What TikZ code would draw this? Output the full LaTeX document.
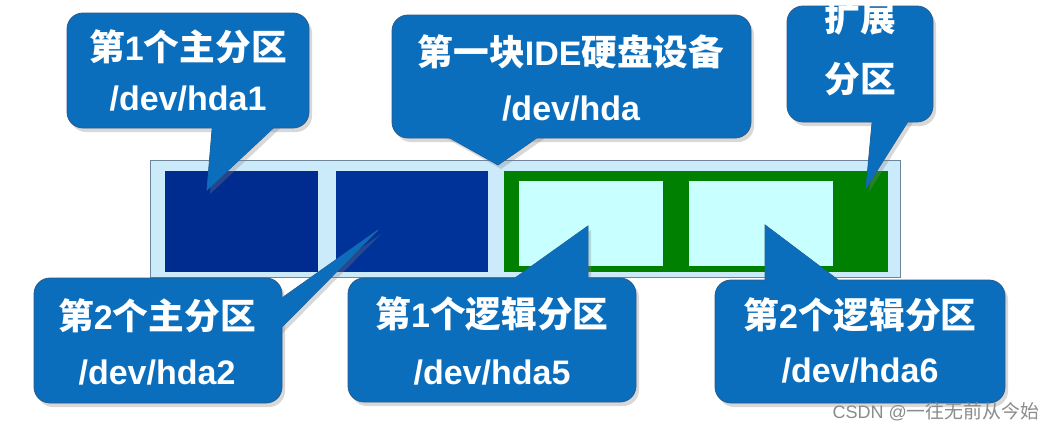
\documentclass[tikz,border=0pt]{standalone}
\usepackage{fontspec}
\setmainfont{Liberation Sans}
\newfontfamily\cjk{Noto Sans CJK SC}[Scale=1.05]
\newcommand\zh[1]{{\cjk #1}}
\usepackage{xcolor}
\usetikzlibrary{shadows}

\definecolor{diskfill}{HTML}{CBEAFA}
\definecolor{diskedge}{HTML}{6E8499}
\definecolor{primone}{HTML}{002C90}
\definecolor{primtwo}{HTML}{003399}
\definecolor{extgreen}{HTML}{008000}
\definecolor{logfill}{HTML}{C8FFFF}
\definecolor{callfill}{HTML}{0A6EBD}
\definecolor{calledge}{HTML}{2C5A88}

\tikzset{
  part/.style={inner sep=0pt, outer sep=0pt},
  callbox/.style={fill=callfill, draw=calledge, line width=0.8pt, rounded corners=16pt,
    inner sep=0pt, drop shadow={opacity=0.3, shadow xshift=3pt, shadow yshift=-4pt}},
  tail/.style={fill=callfill, draw=calledge, line width=0.8pt,
    drop shadow={opacity=0.3, shadow xshift=3pt, shadow yshift=-4pt}},
  tailfill/.style={fill=callfill},
  calltext/.style={text=white, font=\bfseries\fontsize{34}{50}\selectfont, align=center}
}

\begin{document}
\begin{tikzpicture}[x=1pt,y=-1pt]
		\useasboundingbox[fill=white] (0,0) rectangle (1056,431);
		% disk and partitions
		\node[part, fill=diskfill, draw=diskedge, line width=1pt, minimum width=749.5pt, minimum height=117pt] (disk) at (525.5,219.2) {};
		\node[part, fill=primone, minimum width=152.3pt, minimum height=101pt] (hda1) at (241.6,221.2) {};
		\node[part, fill=primtwo, minimum width=152.2pt, minimum height=101pt] (hda2) at (411.6,221.2) {};
		\node[part, fill=extgreen, minimum width=383.1pt, minimum height=101pt] (ext) at (696,221.2) {};
		\node[part, fill=logfill, minimum width=143.4pt, minimum height=85.3pt] (hda5) at (590.9,223.3) {};
		\node[part, fill=logfill, minimum width=143.4pt, minimum height=85.3pt] (hda6) at (760.8,223.3) {};
		%
		\coordinate (t1) at (207,190);
		\coordinate (t2) at (498,165);
		\coordinate (t3) at (866,188);
		\coordinate (t4) at (378,230);
		\coordinate (t5) at (588,226);
		\coordinate (t6) at (765,225);
		%
		\path[tail] (213,118) -- (t1) -- (284,118) -- cycle;
		\path[tail] (432,128) -- (t2) -- (551,128) -- cycle;
		\path[tail] (873,112) -- (t3) -- (914,112) -- cycle;
		\path[tail] (272,305) -- (t4) -- (272,337) -- cycle;
		\path[tail] (501,288) -- (t5) -- (588,288) -- cycle;
		\path[tail] (765,292) -- (t6) -- (854,292) -- cycle;
		%
		\node[callbox, minimum width=242pt, minimum height=115pt] (c1) at (188,70.5) {};
		\node[callbox, minimum width=359pt, minimum height=123pt] (c2) at (571.5,76.5) {};
		\node[callbox, minimum width=146pt, minimum height=116pt] (c3) at (860,64) {};
		\node[callbox, minimum width=248pt, minimum height=125pt] (c4) at (158,340.5) {};
		\node[callbox, minimum width=288pt, minimum height=124pt] (c5) at (492,340) {};
		\node[callbox, minimum width=290pt, minimum height=123pt] (c6) at (860,341.5) {};
		%
		\path[tailfill] (213,118) -- (t1) -- (284,118) -- cycle;
		\path[tailfill] (432,128) -- (t2) -- (551,128) -- cycle;
		\path[tailfill] (873,112) -- (t3) -- (914,112) -- cycle;
		\path[tailfill] (272,305) -- (t4) -- (272,337) -- cycle;
		\path[tailfill] (501,288) -- (t5) -- (588,288) -- cycle;
		\path[tailfill] (765,292) -- (t6) -- (854,292) -- cycle;
		%
		\node[calltext] (c1t) at (188,70) {\zh{第}1\zh{个主分区}\\/dev/hda1};
		\node[calltext, font=\bfseries\fontsize{34}{55}\selectfont] (c2t) at (571,78) {\zh{第一块}IDE\zh{硬盘设备}\\/dev/hda};
		\node[calltext, font=\bfseries\fontsize{34}{61}\selectfont] (c3t) at (860,48) {\zh{扩展}\\\zh{分区}};
		\node[calltext, font=\bfseries\fontsize{34}{55}\selectfont] (c4t) at (157,342) {\zh{第}2\zh{个主分区}\\/dev/hda2};
		\node[calltext, font=\bfseries\fontsize{34}{57}\selectfont] (c5t) at (492,341) {\zh{第}1\zh{个逻辑分区}\\/dev/hda5};
		\node[calltext, font=\bfseries\fontsize{34}{54}\selectfont] (c6t) at (860,340) {\zh{第}2\zh{个逻辑分区}\\/dev/hda6};
		%
		\node[text=black!45, font=\fontsize{18}{20}\selectfont, anchor=west] (mark) at (829,412) {CSDN @\zh{一往无前从今始}};
	\end{tikzpicture}
\end{document}
